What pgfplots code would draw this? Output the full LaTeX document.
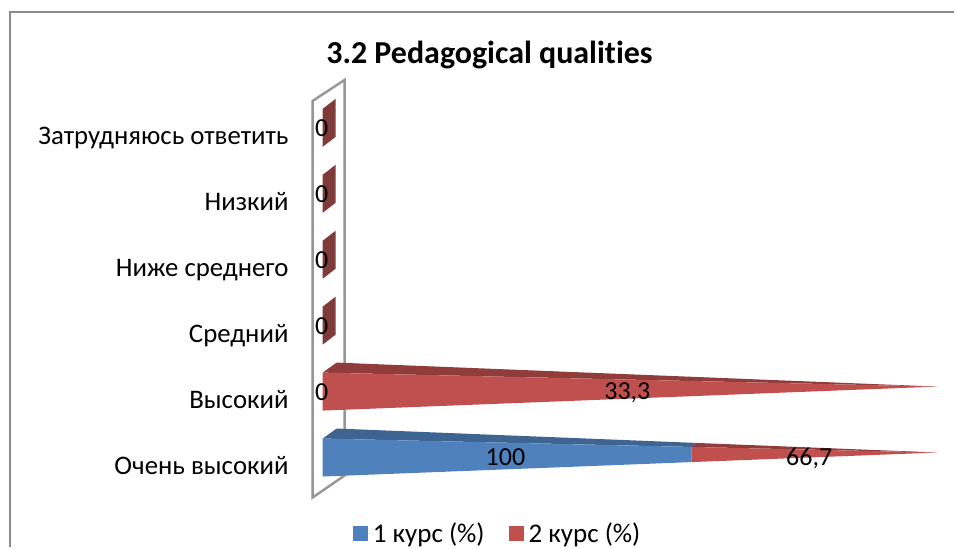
\documentclass[border=0pt]{standalone}
\usepackage{fontspec}
\setmainfont[Ligatures=NoCommon]{Carlito}
\usepackage{pgfplots}
\pgfplotsset{compat=1.18}
\definecolor{bluef}{HTML}{4F81BD}
\definecolor{bluet}{HTML}{3E6592}
\definecolor{redf}{HTML}{C0504D}
\definecolor{redt}{HTML}{8F3C3A}
\definecolor{redz}{HTML}{7F3A3A}
\definecolor{wall}{HTML}{969696}
\definecolor{frame}{HTML}{8C8C8C}
\newcommand\PX[2]{(axis cs:{(#1-323)/6.15},{(453-#2)/66})}
\begin{document}
\begin{tikzpicture}
\begin{axis}[
  scale only axis, width=665pt, height=548pt,
  xmin=-5.366, xmax=102.764, ymin=-1.4394, ymax=6.8636,
  clip=false, axis line style={draw=none}, tick style={draw=none},
  major tick length=0pt, xtick=\empty,
  ytick={0,1,2,3,4,5},
  yticklabels={Очень высокий,Высокий,Средний,Ниже среднего,Низкий,Затрудняюсь ответить},
  yticklabel style={font=\fontsize{26.8}{29}\selectfont, inner sep=0pt, yshift=-19pt, xshift=-1pt, text height=0.7em, text depth=0.2em},
  legend columns=2,
  legend style={at={(axis cs:28.48,-1.2273)},anchor=center,draw=none,fill=none,font=\fontsize{27}{30}\selectfont,
    /tikz/every even column/.append style={column sep=22pt}},
  legend image code/.code={\path (0pt,0pt) -- (18pt,0pt);\path[#1] (0pt,-7.5pt) rectangle (15pt,7.5pt);},
]
% outer frame and wall
\draw[frame,line width=2pt] \PX{10}{548} -- \PX{10}{12} -- \PX{955}{12};
\draw[wall,line width=2.4pt] \PX{313}{101} -- \PX{345}{80} -- \PX{345}{476} -- \PX{313}{498} -- cycle;
\path \PX{0}{548} rectangle \PX{955}{0};
\node[font=\bfseries\fontsize{32}{35}\selectfont,anchor=center] at \PX{490}{55} {3.2 Pedagogical qualities};

% zero rows
\addplot[forget plot,fill=redz,draw=none] coordinates {(0,5.212)(2.114,5.364)(2.114,4.788)(0,4.636)} --cycle;
\addplot[forget plot,fill=redz,draw=none] coordinates {(0,4.212)(2.114,4.364)(2.114,3.788)(0,3.636)} --cycle;
\addplot[forget plot,fill=redz,draw=none] coordinates {(0,3.212)(2.114,3.364)(2.114,2.788)(0,2.636)} --cycle;
\addplot[forget plot,fill=redz,draw=none] coordinates {(0,2.212)(2.114,2.364)(2.114,1.788)(0,1.636)} --cycle;
% Высокий: 2 курс = 100 % of the stack
\addplot[forget plot,fill=redt,draw=none] coordinates {(0,1.212)(2.276,1.364)(100,1)} --cycle;
\addplot[forget plot,fill=redf,draw=none] coordinates {(0,1.212)(100,1)(0,0.636)} --cycle;
% Очень высокий: 100 and 66.7 -> 60 % and 40 % of the stack
\addplot[forget plot,fill=redt,draw=none] coordinates {(60,0.0848)(60.91,0.1454)(100,0)} --cycle;
\addplot[forget plot,fill=redf,draw=none] coordinates {(60,0.0848)(100,0)(60,-0.1454)} --cycle;
\addplot[forget plot,fill=bluet,draw=none] coordinates {(0,0.212)(2.276,0.364)(60.91,0.1454)(60,0.0848)} --cycle;
\addplot[forget plot,fill=bluef,draw=none] coordinates {(0,0.212)(60,0.0848)(60,-0.1454)(0,-0.364)} --cycle;

% data labels
\addplot[forget plot,draw=none,mark=none,point meta=explicit symbolic,nodes near coords,
  nodes near coords align=center,
  every node near coord/.append style={font=\fontsize{26}{28}\selectfont,text=black,inner sep=0pt}]
  coordinates {(-0.16,4.924)[0] (-0.16,3.924)[0] (-0.16,2.924)[0] (-0.16,1.924)[0] (-0.16,0.909)[0]
               (49.6,0.909)[{33,3}] (29.76,-0.076)[100] (79.2,-0.09)[{66,7}]};

\addlegendimage{fill=bluef,draw=none}
\addlegendentry{1 курс (\%)}
\addlegendimage{fill=redf,draw=none}
\addlegendentry{2 курс (\%)}
\end{axis}
\end{tikzpicture}
\end{document}
